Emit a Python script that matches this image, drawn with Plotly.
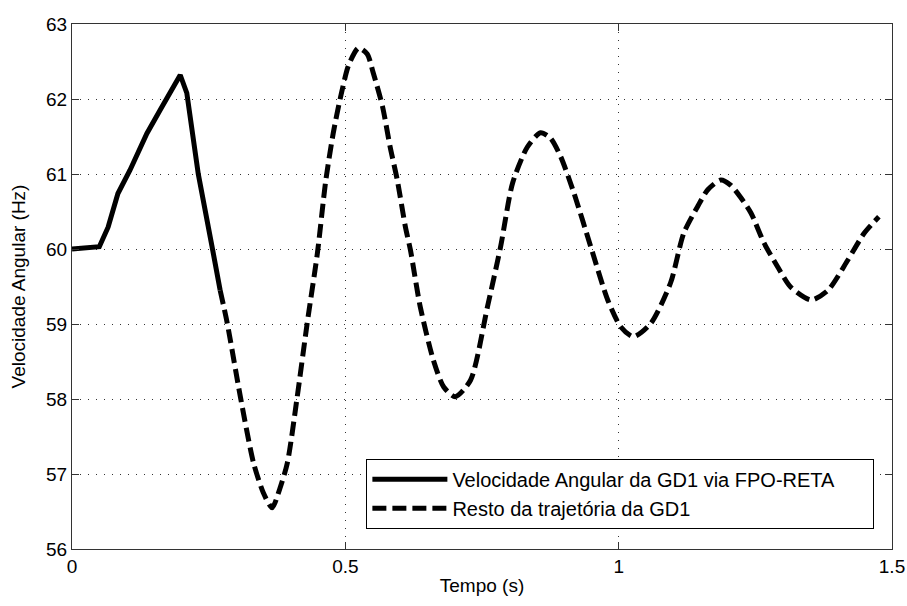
import plotly.graph_objects as go

# --- data ---
solid_t = [0.0, 0.05, 0.066, 0.084, 0.106, 0.137, 0.161, 0.185, 0.198, 0.21, 0.231, 0.257, 0.271]
solid_v = [60.0, 60.03, 60.29, 60.74, 61.05, 61.54, 61.85, 62.16, 62.32, 62.08, 61.0, 60.0, 59.45]

dashed_t = [0.271, 0.284, 0.308, 0.332, 0.35, 0.366, 0.38, 0.394, 0.412, 0.43, 0.449, 0.464,
            0.478, 0.492, 0.506, 0.524, 0.54, 0.551, 0.568, 0.582, 0.595, 0.61, 0.619, 0.637,
            0.661, 0.68, 0.701, 0.729, 0.76, 0.784, 0.806, 0.833, 0.857, 0.875, 0.894, 0.918,
            0.949, 0.98, 1.004, 1.027, 1.059, 1.095, 1.119, 1.144, 1.163, 1.187, 1.205, 1.223,
            1.242, 1.266, 1.291, 1.315, 1.352, 1.383, 1.419, 1.449, 1.476]
dashed_v = [59.45, 59.01, 58.03, 57.15, 56.75, 56.55, 56.8, 57.15, 58.03, 59.0, 59.95, 60.9,
            61.55, 62.05, 62.45, 62.68, 62.6, 62.35, 61.9, 61.36, 60.92, 60.29, 59.99, 59.23,
            58.52, 58.16, 58.03, 58.25, 59.23, 60.03, 60.88, 61.36, 61.55, 61.48, 61.23, 60.75,
            60.03, 59.32, 58.96, 58.83, 59.01, 59.55, 60.21, 60.56, 60.79, 60.92, 60.85, 60.69,
            60.48, 60.08, 59.76, 59.49, 59.32, 59.45, 59.85, 60.21, 60.43]

x_ticks = [0, 0.5, 1, 1.5]
x_tick_labels = ["0", "0.5", "1", "1.5"]
y_ticks = [56, 57, 58, 59, 60, 61, 62, 63]
y_tick_labels = ["56", "57", "58", "59", "60", "61", "62", "63"]

name_solid = "Velocidade Angular da GD1 via FPO-RETA"
name_dashed = "Resto da trajetória da GD1"

FONT = "Liberation Sans, Arial, sans-serif"
PAD = "\u00a0" * 6  # blank padding so the legend box is as wide as the reference's

fig = go.Figure()
fig.add_trace(go.Scatter(x=solid_t, y=solid_v, mode="lines", name=name_solid + PAD,
                         line=dict(color="black", width=5)))
fig.add_trace(go.Scatter(x=dashed_t, y=dashed_v, mode="lines", name=name_dashed,
                         line=dict(color="black", width=5, dash="14px,6px",
                                   shape="spline", smoothing=0.7)))

axis_common = dict(
    showline=True, linecolor="#333", linewidth=1, mirror="ticks",
    ticks="inside", ticklen=7, tickcolor="#333", tickwidth=1,
    showgrid=True, gridcolor="#333", gridwidth=1, griddash="1px,7px",
    zeroline=False, automargin=False,
    tickfont=dict(family=FONT, size=19, color="black"),
)

fig.update_xaxes(range=[0, 1.5], tickvals=x_ticks, ticktext=x_tick_labels,
                 title=dict(text="Tempo (s)", font=dict(family=FONT, size=19, color="black"),
                            standoff=2),
                 **axis_common)
fig.update_yaxes(range=[56, 63], tickvals=y_ticks, ticktext=y_tick_labels,
                 title=dict(text="Velocidade Angular (Hz)",
                            font=dict(family=FONT, size=19, color="black"), standoff=15),
                 **axis_common)

fig.update_layout(
    width=907, height=606,
    margin=dict(l=72, r=15, t=24, b=57),
    paper_bgcolor="white", plot_bgcolor="white",
    font=dict(family=FONT, size=19, color="black"),
    legend=dict(x=0.359, y=0.172, xanchor="left", yanchor="top",
                bgcolor="white", bordercolor="black", borderwidth=1,
                font=dict(family=FONT, size=20, color="black"),
                itemwidth=75, tracegroupgap=0),
    showlegend=True,
)

# remove the browser's default 8px page margin so the figure fills the window exactly
fig.write_html("out.html", config={"displayModeBar": False},
               post_script="document.body.style.margin='0';document.body.style.overflow='hidden';")
